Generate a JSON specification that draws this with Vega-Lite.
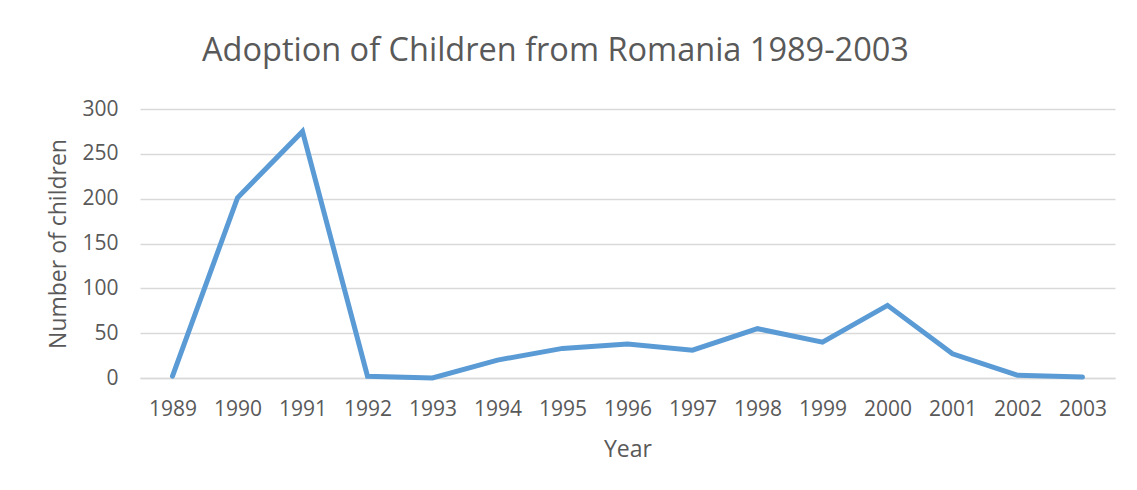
{
  "$schema": "https://vega.github.io/schema/vega-lite/v6.json",
  "width": 975,
  "height": 269,
  "autosize": {"type": "none"},
  "padding": {"left": 140, "top": 109, "right": 22, "bottom": 112},
  "background": "white",
  "config": {
    "view": {"stroke": null},
    "font": "Open Sans"
  },
  "title": {
    "text": "Adoption of Children from Romania 1989-2003",
    "font": "Open Sans",
    "fontSize": 32.5,
    "fontWeight": "normal",
    "color": "#595959",
    "anchor": "middle",
    "dx": -72,
    "offset": 31
  },
  "data": {
    "values": [
      {"Year": "1989", "Children": 2},
      {"Year": "1990", "Children": 201},
      {"Year": "1991", "Children": 275},
      {"Year": "1992", "Children": 2},
      {"Year": "1993", "Children": 0},
      {"Year": "1994", "Children": 20},
      {"Year": "1995", "Children": 33},
      {"Year": "1996", "Children": 38},
      {"Year": "1997", "Children": 31},
      {"Year": "1998", "Children": 55},
      {"Year": "1999", "Children": 40},
      {"Year": "2000", "Children": 81},
      {"Year": "2001", "Children": 27},
      {"Year": "2002", "Children": 3},
      {"Year": "2003", "Children": 1}
    ]
  },
  "mark": {"type": "line", "color": "#5b9bd5", "strokeWidth": 5, "strokeCap": "round"},
  "encoding": {
    "x": {
      "field": "Year",
      "type": "ordinal",
      "scale": {"type": "point", "padding": 0.5},
      "axis": {
        "title": "Year",
        "labelAngle": 0,
        "ticks": false,
        "domain": true,
        "domainColor": "#d9d9d9",
        "domainWidth": 1.5,
        "grid": false,
        "labelFontSize": 21,
        "labelColor": "#595959",
        "labelPadding": 20,
        "titleFontSize": 23,
        "titleFontWeight": "normal",
        "titleColor": "#595959",
        "titlePadding": 19
      }
    },
    "y": {
      "field": "Children",
      "type": "quantitative",
      "scale": {"domain": [0, 300], "nice": false},
      "axis": {
        "title": "Number of children",
        "values": [0, 50, 100, 150, 200, 250, 300],
        "ticks": false,
        "domain": false,
        "grid": true,
        "gridColor": "#d9d9d9",
        "gridWidth": 1.5,
        "labelFontSize": 21,
        "labelColor": "#595959",
        "labelPadding": 22,
        "titleFontSize": 23,
        "titleFontWeight": "normal",
        "titleColor": "#595959",
        "titlePadding": 11
      }
    }
  }
}
